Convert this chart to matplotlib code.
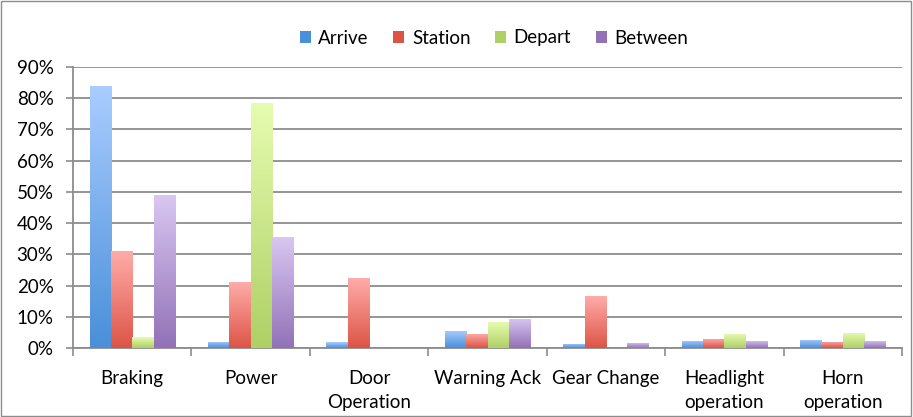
import matplotlib.pyplot as plt
import numpy as np
from matplotlib.colors import LinearSegmentedColormap
from matplotlib.patches import Patch, Rectangle

plt.rcParams['font.family'] = ['Lato', 'DejaVu Sans']

categories = ["Braking", "Power", "Door\nOperation", "Warning Ack", "Gear Change",
              "Headlight\noperation", "Horn\noperation"]
series = ["Arrive", "Station", "Depart", "Between"]
arrive = [84, 2.0, 1.8, 5.6, 1.3, 2.3, 2.6]
station = [31, 21, 22.4, 4.6, 16.5, 3.0, 2.0]
depart = [3.5, 78.5, 0, 8.3, 0, 4.5, 4.9]
between = [49, 35.5, 0, 9.3, 1.7, 2.3, 2.3]
yticks = [0, 10, 20, 30, 40, 50, 60, 70, 80, 90]

# (top colour, bottom colour) for each series gradient
shades = [("#aacdff", "#4a8fd9"), ("#ffaca9", "#dd5446"),
          ("#e6fcb0", "#aed065"), ("#d9c7f2", "#9271b7")]

fig = plt.figure(figsize=(9.13, 4.17), dpi=100)
fig.patches.append(Rectangle((0.001, 0.002), 0.997, 0.996, transform=fig.transFigure,
                             fill=False, edgecolor="#8c8c8c", linewidth=1.0))
ax = fig.add_axes([73 / 913, 1 - 348 / 417, 829 / 913, 281 / 417])

x = np.arange(len(categories))
width = 0.18
data = [arrive, station, depart, between]
for i, (vals, (top, bot)) in enumerate(zip(data, shades)):
    cmap = LinearSegmentedColormap.from_list(series[i], [bot, top])
    offs = (i - 1.5) * width
    for xi, v in zip(x, vals):
        if v <= 0:
            continue
        left = xi + offs - width / 2
        rect = Rectangle((left, 0), width, v, facecolor="none", edgecolor="none")
        ax.add_patch(rect)
        grad = np.linspace(0, 1, 256).reshape(-1, 1)
        im = ax.imshow(grad, cmap=cmap, origin="lower", aspect="auto",
                       extent=(left, left + width, 0, v), zorder=3)
        im.set_clip_path(rect)

ax.set_xlim(-0.5, len(categories) - 0.5)
ax.set_ylim(0, 90)
ax.set_yticks(yticks)
ax.set_yticklabels([f"{t}%" for t in yticks], fontsize=13.5)
ax.set_xticks(x)
ax.set_xticklabels(categories, fontsize=13.5, linespacing=1.45)
ax.set_xticks(np.arange(-0.5, len(categories)), minor=True)
ax.tick_params(axis="x", which="major", length=0, pad=16)
ax.tick_params(axis="x", which="minor", length=6, color="#8c8c8c", width=1.2)
ax.tick_params(axis="y", length=5, color="#8c8c8c", width=1.2, pad=9)

ax.yaxis.grid(True, color="#8c8c8c", linewidth=1.3)
ax.set_axisbelow(True)
for s in ["top", "right"]:
    ax.spines[s].set_visible(False)
for s in ["left", "bottom"]:
    ax.spines[s].set_color("#8c8c8c")
    ax.spines[s].set_linewidth(1.3)

handles = [Patch(facecolor=bot, edgecolor="none") for _, bot in shades]
fig.legend(handles, series, loc="center", bbox_to_anchor=(0.541, 1 - 38 / 417),
           ncol=4, frameon=False, fontsize=13.5, handlelength=0.6, handleheight=0.6,
           handletextpad=0.4, columnspacing=1.3)

fig.savefig("out.png", dpi=100)
